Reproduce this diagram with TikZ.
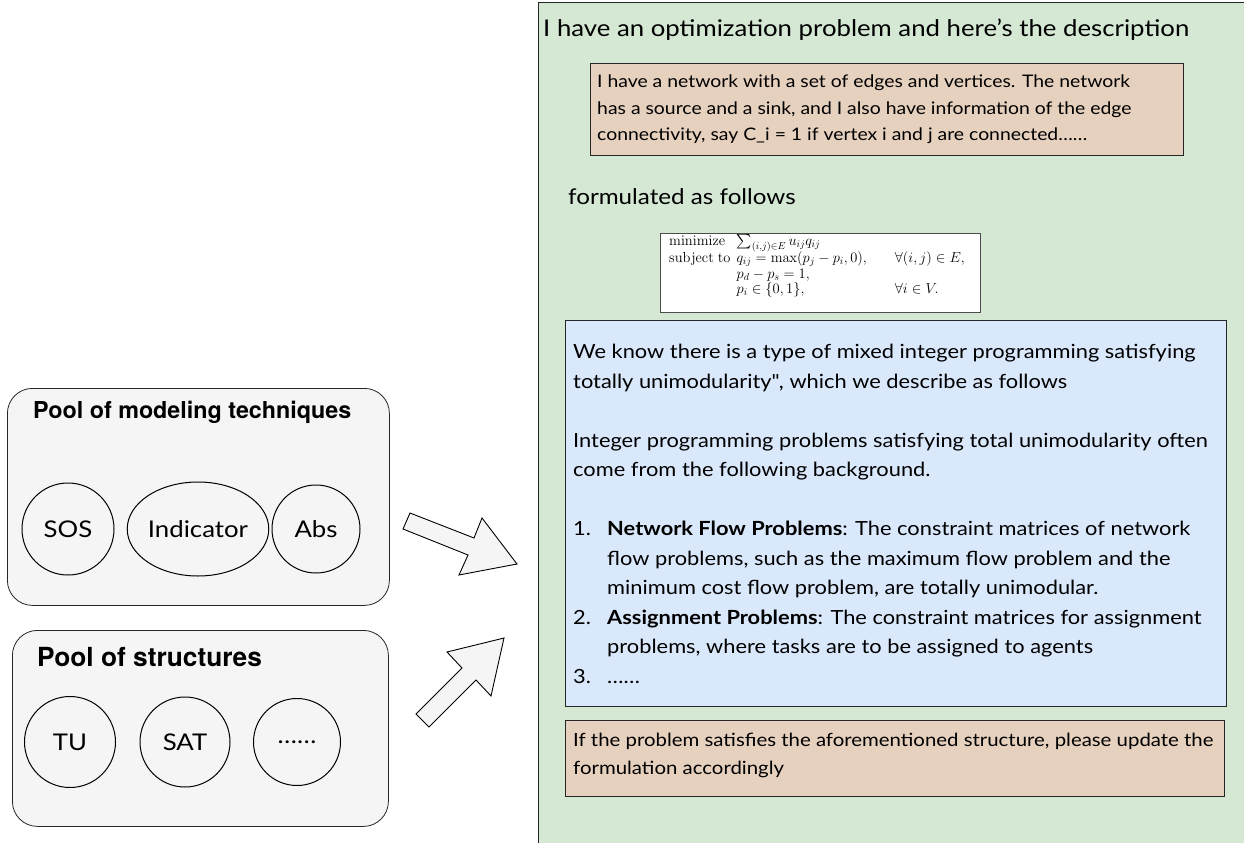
\RequirePackage{fix-cm}
\documentclass[tikz,border=0pt]{standalone}
\usepackage[no-math]{fontspec}
\setmainfont{Lato}[FakeStretch=1.12]
\newfontfamily\helv{TeX Gyre Heros}
\usepackage{amsmath}
\usetikzlibrary{positioning, shapes.geometric}

\definecolor{panelgreen}{RGB}{213,232,212}
\definecolor{notebrown}{RGB}{230,208,190}
\definecolor{noteblue}{RGB}{218,232,252}
\definecolor{poolgray}{RGB}{245,245,245}

\newcommand{\textlines}[1]{\begin{tabular}[t]{@{}l@{}}#1\end{tabular}}

\begin{document}
\begin{tikzpicture}[x=1pt, y=-1pt,
  pool/.style={draw=black!85, fill=poolgray, rounded corners=25pt, line width=0.8pt, anchor=north west, inner sep=0},
  pooltitle/.style={anchor=base west, inner sep=0, font=\helv\bfseries\fontsize{23.3}{26}\selectfont},
  tech/.style={draw=black, fill=poolgray, line width=1pt, inner sep=0, font=\fontsize{23}{26}\selectfont},
  note/.style={draw=black!85, line width=1.2pt, anchor=north west, inner sep=0pt},
  body/.style={anchor=base west, inner sep=0pt},
  bigarrow/.style={draw=black, fill=poolgray, line width=0.9pt, line join=miter}]

\useasboundingbox (0,0) rectangle (1244,843);

% prompt panel
\fill[panelgreen] (538,3) rectangle (1244,843);
\draw[line width=1pt, black!85] (1244,3) -- (538,3) -- (538,843);

\node[body, font=\fontsize{23}{28}\selectfont] (prompt) at (543,37) {I have an optimization problem and here’s the description};

\node[note, fill=notebrown, minimum width=593, minimum height=92] (descbox) at (590,63) {};
\node[body, font=\fontsize{17.3}{26}\selectfont] (desc) at (597,88) {\textlines{I have a network with a set of edges and vertices. The network\\
has a source and a sink, and I also have information of the edge\\
connectivity, say C\_i = 1 if vertex i and j are connected……}};

\node[body, font=\fontsize{21.6}{26}\selectfont] (formtitle) at (568,204) {formulated as follows};

\node[note, fill=white, draw=black!70, line width=1pt, minimum width=320, minimum height=79] (modelbox) at (660,233) {};
\node[anchor=north west, inner sep=0pt, font=\fontsize{14.5}{15.5}\selectfont] (model) at (669,234) {%
$\begin{array}{@{}l@{\hspace{6pt}}l@{\hspace{28pt}}l@{}}
\mathrm{minimize} & \sum_{(i,j)\in E} u_{ij}q_{ij} & \\
\mathrm{subject\ to} & q_{ij}=\max(p_j-p_i,0), & \forall (i,j)\in E,\\
 & p_d-p_s=1, & \\
 & p_i\in\{0,1\}, & \forall i\in V.
\end{array}$};

\node[note, fill=noteblue, minimum width=661, minimum height=386] (tubox) at (565,320) {};
\node[body, font=\fontsize{19.5}{29.5}\selectfont] (tutext) at (573,358.5) {\textlines{%
We know there is a type of mixed integer programming satisfying\\
totally unimodularity\textquotedbl, which we describe as follows\\
\\
Integer programming problems satisfying total unimodularity often\\
come from the following background.\\
\\
\makebox[34pt][l]{1.}\textbf{Network Flow Problems}: The constraint matrices of network\\
\hspace*{34pt}flow problems, such as the maximum flow problem and the\\
\hspace*{34pt}minimum cost flow problem, are totally unimodular.\\
\makebox[34pt][l]{2.}\textbf{Assignment Problems}: The constraint matrices for assignment\\
\hspace*{34pt}problems, where tasks are to be assigned to agents\\
\makebox[34pt][l]{3.}……}};

\node[note, fill=notebrown, minimum width=659, minimum height=76] (askbox) at (565,720) {};
\node[body, font=\fontsize{18.2}{28}\selectfont] (ask) at (573,746.5) {\textlines{If the problem satisfies the aforementioned structure, please update the\\
formulation accordingly}};

% pools
\node[pool, minimum width=382, minimum height=217] (techpool) at (7,388) {};
\node[pooltitle] (techtitle) at (33,418) {Pool of modeling techniques};
\node[tech, circle, minimum size=92] (sos) at (68,529) {SOS};
\node[tech, ellipse, minimum width=139, minimum height=94] (ind) at (198,529) {Indicator};
\node[tech, circle, minimum size=88] (abs) at (316,529) {Abs};

\node[pool, minimum width=376, minimum height=196] (structpool) at (12,630) {};
\node[pooltitle, font=\helv\bfseries\fontsize{26.3}{30}\selectfont] (structtitle) at (37,666) {Pool of structures};
\node[tech, circle, minimum size=91] (tu) at (70,742) {TU};
\node[tech, circle, minimum size=90] (sat) at (185,742) {SAT};
\node[tech, circle, minimum size=87] (more) at (297,742) {……};

% arrows into the prompt
\draw[bigarrow] (410,513) -- (474,538) -- (482,518) -- (517,564) -- (459,575) -- (468,555) -- (403,529) -- cycle;
\draw[bigarrow] (416,714) -- (462,668) -- (447,652) -- (504,638) -- (491,696) -- (476,680) -- (429,727) -- cycle;

\end{tikzpicture}
\end{document}
